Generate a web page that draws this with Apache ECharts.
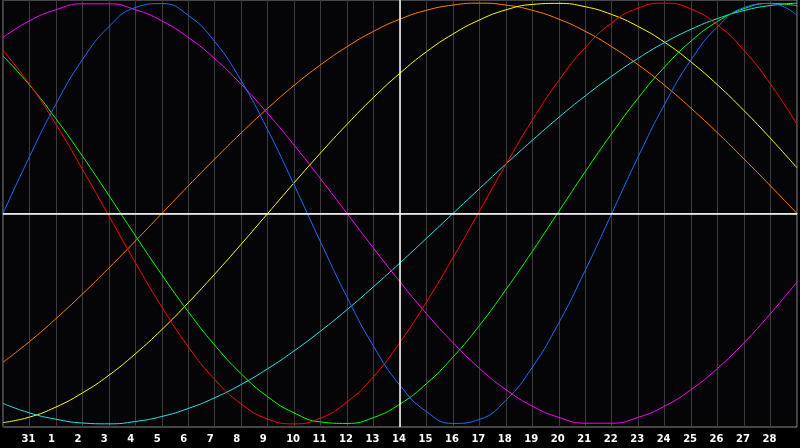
<!DOCTYPE html>
<html>
<head>
<meta charset="utf-8">
<script src="https://cdn.jsdelivr.net/npm/echarts@6/dist/echarts.min.js"></script>
<style>
html,body{margin:0;padding:0;background:#000;}
#c{width:800px;height:448px;}
</style>
</head>
<body>
<div id="c"></div>
<script>
// Day labels (k = 0 .. 30); first and last are at the plot edges and not shown
const dayLabels = ['30','31','1','2','3','4','5','6','7','8','9','10','11','12','13','14','15','16','17','18','19','20','21','22','23','24','25','26','27','28','1'];
const todayLabel = '14';

// Cycle values, one per day
const physical = [0,0.270,0.520,0.731,0.888,0.979,0.998,0.942,0.817,0.631,0.398,0.136,-0.136,-0.398,-0.631,-0.817,-0.942,-0.998,-0.979,-0.888,-0.731,-0.520,-0.270,0,0.270,0.520,0.731,0.888,0.979,0.998,0.942];
const emotional = [0.775,0.615,0.424,0.211,-0.011,-0.233,-0.444,-0.633,-0.789,-0.905,-0.977,-1.000,-0.973,-0.896,-0.776,-0.612,-0.421,-0.211,0.011,0.233,0.444,0.632,0.789,0.906,0.977,1.000,0.972,0.896,0.775,0.615,0.424];
const intellectual = [0.749,0.611,0.450,0.273,0.086,-0.105,-0.291,-0.467,-0.626,-0.762,-0.871,-0.948,-0.991,-0.998,-0.970,-0.906,-0.809,-0.683,-0.533,-0.362,-0.180,0.010,0.199,0.380,0.549,0.697,0.820,0.913,0.974,0.999,0.988];
const intuitive = [0.837,0.916,0.969,0.997,0.997,0.969,0.916,0.837,0.736,0.614,0.476,0.325,0.165,0.000,-0.165,-0.325,-0.476,-0.614,-0.736,-0.837,-0.916,-0.969,-0.997,-0.997,-0.969,-0.916,-0.837,-0.736,-0.614,-0.476,-0.325];
const spiritual = [-0.903,-0.948,-0.978,-0.996,-1.000,-0.989,-0.965,-0.927,-0.876,-0.813,-0.738,-0.653,-0.559,-0.457,-0.348,-0.235,-0.118,0,0.118,0.235,0.348,0.457,0.559,0.653,0.738,0.813,0.876,0.927,0.965,0.989,1.000];
const aesthetic = [-0.994,-0.968,-0.920,-0.853,-0.769,-0.667,-0.552,-0.424,-0.288,-0.146,0,0.146,0.288,0.424,0.552,0.667,0.769,0.853,0.920,0.968,0.994,0.999,0.983,0.946,0.889,0.814,0.720,0.611,0.489,0.357,0.217];
const awareness = [-0.707,-0.609,-0.500,-0.383,-0.259,-0.131,0,0.131,0.259,0.383,0.500,0.609,0.707,0.793,0.866,0.924,0.966,0.991,1.000,0.991,0.966,0.924,0.866,0.793,0.707,0.609,0.500,0.383,0.259,0.131,0];

const seriesDefs = [
  {name:'Awareness', data: awareness, color:'#ff8000'},
  {name:'Aesthetic', data: aesthetic, color:'#ffff00'},
  {name:'Spiritual', data: spiritual, color:'#20e8e8'},
  {name:'Intuitive', data: intuitive, color:'#ff00ff'},
  {name:'Intellectual', data: intellectual, color:'#00ff00'},
  {name:'Emotional', data: emotional, color:'#ff0000'},
  {name:'Physical', data: physical, color:'#1a6cff'}
];

const chart = echarts.init(document.getElementById('c'), null, {renderer:'canvas'});
const series = seriesDefs.map(s => ({
  name: s.name, type:'line', data: s.data, smooth: true, symbol:'none',
  lineStyle:{color:s.color, width:1}, itemStyle:{color:s.color},
  emphasis:{disabled:true}, silent:true, z:3
}));
series.push({
  type:'line', data: [], silent:true, z:2,
  markLine:{
    silent:true, symbol:'none', label:{show:false},
    lineStyle:{color:'#ffffff', width:1.5, type:'solid'},
    data:[{yAxis:0},{xAxis: todayLabel}]
  }
});
chart.setOption({
  animation:false,
  backgroundColor:'#000000',
  grid:{left:0, right:0, top:0, bottom:21, show:true, backgroundColor:'#050508', borderColor:'#8a8a8a', borderWidth:1},
  xAxis:{
    type:'category', data: dayLabels, boundaryGap:false,
    axisLine:{show:true, lineStyle:{color:'#a0a0a0', width:1}},
    axisTick:{show:false},
    axisLabel:{
      interval:0, color:'#ffffff', fontFamily:'DejaVu Sans', fontWeight:'bold', fontSize:10,
      margin:7, align:'left', padding:[0,0,0,-8],
      formatter:(v, i) => (i === 0 || i === dayLabels.length - 1) ? '' : v
    },
    splitLine:{show:true, interval:0, lineStyle:{color:'#3c3c3c', width:1}}
  },
  yAxis:{
    type:'value', min:-1.015, max:1.015,
    axisLine:{show:false}, axisTick:{show:false}, axisLabel:{show:false}, splitLine:{show:false}
  },
  series: series
});
</script>
</body>
</html>
